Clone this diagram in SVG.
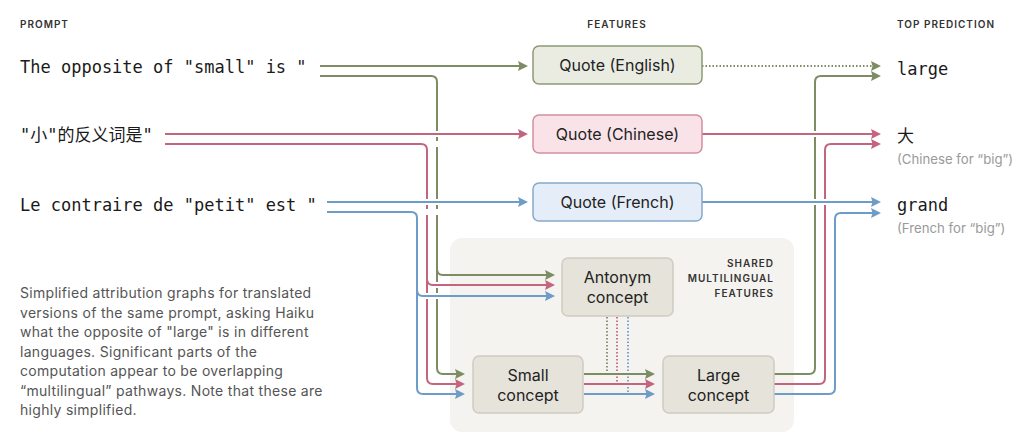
<svg xmlns="http://www.w3.org/2000/svg" width="1026" height="436" viewBox="0 0 1026 436">
<style>
.hdr{font-family:Inter,"Liberation Sans",sans-serif;font-size:10px;font-weight:600;letter-spacing:1px;fill:#333}
.mono{font-family:"DejaVu Sans Mono","Noto Sans CJK SC",monospace;font-size:17px;fill:#1a1a1a}
.lbl{font-family:Inter,"Liberation Sans",sans-serif;font-size:16px;fill:#222;text-anchor:middle}
.clbl{font-family:Inter,"Liberation Sans",sans-serif;font-size:16px;fill:#222;text-anchor:middle}
.sub{font-family:Inter,"Liberation Sans",sans-serif;font-size:13.2px;fill:#9a9a9a}
.cap{font-family:Inter,"Liberation Sans",sans-serif;font-size:14px;letter-spacing:0.3px;fill:#555}
.shared{font-family:Inter,"Liberation Sans",sans-serif;font-size:10px;font-weight:600;letter-spacing:1px;fill:#333;text-anchor:end}
.g{stroke:#7d8c63;stroke-width:2;fill:none}
.p{stroke:#c4657f;stroke-width:2;fill:none}
.b{stroke:#6d9cc8;stroke-width:2;fill:none}
.dot{stroke-dasharray:1.5 2;stroke-width:1.8}
.halo{stroke:#fff;stroke-width:6;fill:none}
.ag{marker-end:url(#ag)}
.ap{marker-end:url(#ap)}
.ab{marker-end:url(#ab)}
</style>
<defs>
<marker id="ag" markerUnits="userSpaceOnUse" markerWidth="10" markerHeight="10" viewBox="0 0 10 10" refX="8" refY="5" orient="auto"><path d="M0,0 L10,5 L0,10 L1.5,5 z" fill="#7d8c63"/></marker>
<marker id="ap" markerUnits="userSpaceOnUse" markerWidth="10" markerHeight="10" viewBox="0 0 10 10" refX="8" refY="5" orient="auto"><path d="M0,0 L10,5 L0,10 L1.5,5 z" fill="#c4657f"/></marker>
<marker id="ab" markerUnits="userSpaceOnUse" markerWidth="10" markerHeight="10" viewBox="0 0 10 10" refX="8" refY="5" orient="auto"><path d="M0,0 L10,5 L0,10 L1.5,5 z" fill="#6d9cc8"/></marker>
</defs>
<rect width="1026" height="436" fill="#fff"/>

<g id="headers">
<text class="hdr" x="20" y="28">PROMPT</text>
<text class="hdr" x="617" y="28" text-anchor="middle">FEATURES</text>
<text class="hdr" x="897" y="28">TOP PREDICTION</text>
</g>

<g id="shared-region">
<rect x="450" y="238" width="344" height="194" rx="12" fill="#f4f3ef"/>
<text class="shared" x="774" y="267">SHARED</text>
<text class="shared" x="774" y="282">MULTILINGUAL</text>
<text class="shared" x="774" y="297">FEATURES</text>
</g>

<g id="prompt-en"><text class="mono" x="20" y="73">The opposite of "small" is "</text></g>
<g id="prompt-zh"><text class="mono" x="20" y="141">"小"的反义词是"</text></g>
<g id="prompt-fr"><text class="mono" x="20" y="211">Le contraire de "petit" est "</text></g>

<g id="connectors">
<path class="g ag" d="M320,66 H526"/>
<path class="g ag" d="M320,76 H431 Q437,76 437,82 V368 Q437,374 443,374 H463"/>
<path class="g ag" d="M437,267 V269 Q437,275 443,275 H553"/>
<path class="halo" d="M432,134 H442 M432,144 H442 M432,285 H442"/>
<path class="p ap" d="M165,134 H526"/>
<path class="p ap" d="M165,144 H421 Q427,144 427,150 V378 Q427,384 433,384 H463"/>
<path class="p ap" d="M427,277 V279 Q427,285 433,285 H553"/>
<path class="halo" d="M422,202 H442 M422,212 H442 M422,296 H442"/>
<path class="b ab" d="M327,202 H526"/>
<path class="b ab" d="M327,212 H411 Q417,212 417,218 V388 Q417,394 423,394 H463"/>
<path class="b ab" d="M417,288 V290 Q417,296 423,296 H553"/>
<path class="g dot" d="M607,317 V373"/>
<path class="p dot" d="M617,317 V383"/>
<path class="b dot" d="M628,317 V393"/>
<path class="g ag" d="M584,374 H653"/>
<path class="p ap" d="M584,384 H653"/>
<path class="b ab" d="M584,394 H653"/>
<path class="g ag" d="M774,374 H809 Q815,374 815,368 V82 Q815,76 821,76 H879"/>
<path class="p ap" d="M774,384 H819 Q825,384 825,378 V150 Q825,144 831,144 H879"/>
<path class="b ab" d="M774,394 H829 Q835,394 835,388 V219 Q835,213 841,213 H879"/>
<path class="g dot ag" d="M702,66 H879"/>
<path class="halo" d="M810,134 H820 M810,202 H830"/>
<path class="p ap" d="M702,134 H879"/>
<path class="b ab" d="M702,202 H879"/>
</g>

<g id="quote-en">
<rect x="533" y="46" width="169" height="38" rx="6" fill="#eaece2" stroke="#8d9a74" stroke-width="1.5"/>
<text class="lbl" x="617.5" y="71">Quote (English)</text>
</g>
<g id="quote-zh">
<rect x="533" y="115" width="169" height="38" rx="6" fill="#f9e3e8" stroke="#d48da1" stroke-width="1.5"/>
<text class="lbl" x="617.5" y="140">Quote (Chinese)</text>
</g>
<g id="quote-fr">
<rect x="533" y="183" width="169" height="38" rx="6" fill="#e5eef8" stroke="#87a9c9" stroke-width="1.5"/>
<text class="lbl" x="617.5" y="208">Quote (French)</text>
</g>

<g id="antonym">
<rect x="562" y="258" width="111" height="58" rx="6" fill="#e5e3da" stroke="#cfccc1" stroke-width="1.5"/>
<text class="clbl" x="617.5" y="283">Antonym</text>
<text class="clbl" x="617.5" y="303">concept</text>
</g>
<g id="small">
<rect x="473" y="356" width="110" height="57" rx="6" fill="#e5e3da" stroke="#cfccc1" stroke-width="1.5"/>
<text class="clbl" x="528" y="381">Small</text>
<text class="clbl" x="528" y="401">concept</text>
</g>
<g id="large">
<rect x="663" y="356" width="111" height="57" rx="6" fill="#e5e3da" stroke="#cfccc1" stroke-width="1.5"/>
<text class="clbl" x="718.5" y="381">Large</text>
<text class="clbl" x="718.5" y="401">concept</text>
</g>

<g id="pred-large"><text class="mono" x="897" y="75">large</text></g>
<g id="pred-da">
<text class="mono" x="897" y="142">大</text>
<text class="sub" x="897" y="164">(Chinese for “big”)</text>
</g>
<g id="pred-grand">
<text class="mono" x="897" y="211">grand</text>
<text class="sub" x="897" y="233">(French for “big”)</text>
</g>

<g id="caption">
<text class="cap" x="20" y="298">Simplified attribution graphs for translated</text>
<text class="cap" x="20" y="317.5">versions of the same prompt, asking Haiku</text>
<text class="cap" x="20" y="337">what the opposite of "large" is in different</text>
<text class="cap" x="20" y="356.5">languages. Significant parts of the</text>
<text class="cap" x="20" y="376">computation appear to be overlapping</text>
<text class="cap" x="20" y="395.5">“multilingual” pathways. Note that these are</text>
<text class="cap" x="20" y="415">highly simplified.</text>
</g>
</svg>
